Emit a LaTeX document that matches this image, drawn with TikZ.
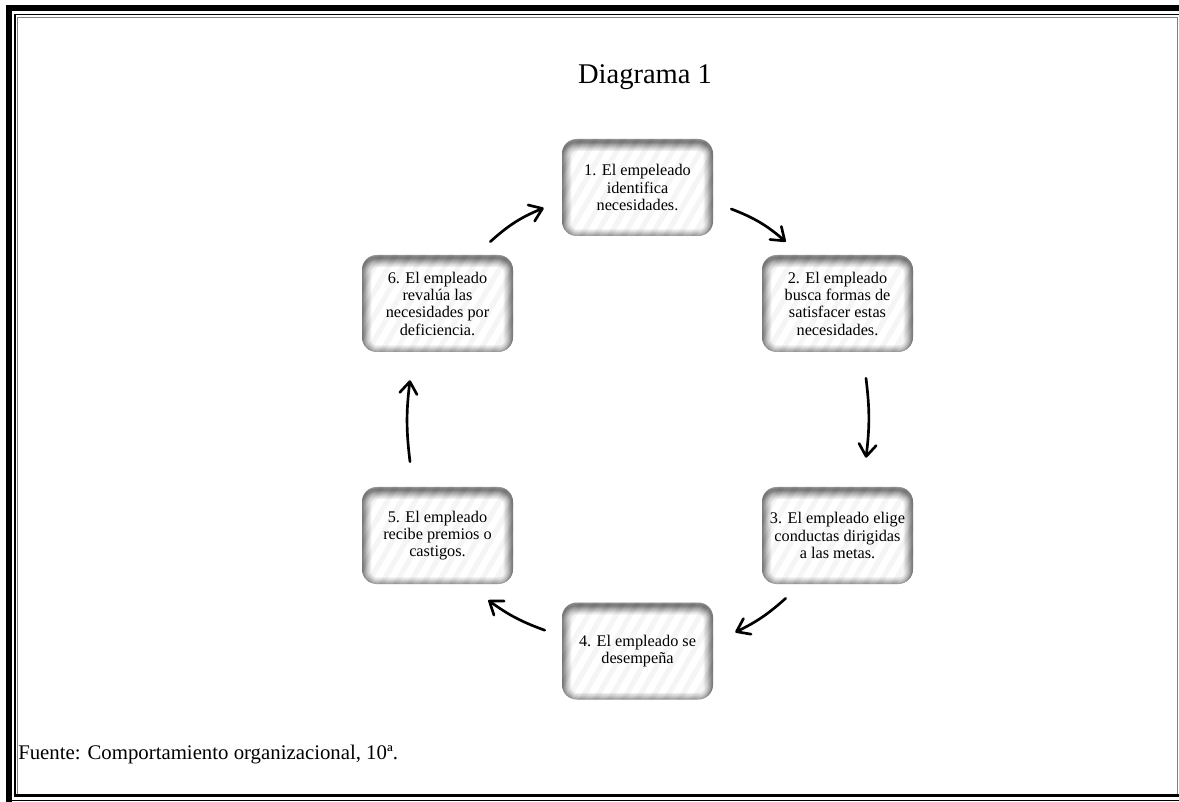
\documentclass[tikz,border=0pt]{standalone}
\usepackage{fontspec}
\setmainfont{Liberation Serif}
\usetikzlibrary{arrows.meta,calc}
\begin{document}
\begin{tikzpicture}[x=0.75pt,y=0.75pt,
  boxstyle/.style={
    minimum width=113.25pt, minimum height=72.75pt, inner sep=0pt,
    rounded corners=11pt, align=center,
    font=\fontsize{12.2}{13}\selectfont,
    path picture={
      \fill[white] (path picture bounding box.south west) rectangle (path picture bounding box.north east);
      \foreach \k in {-16,...,16}
        \draw[black!4, line width=3.8pt]
          ([shift={(\k*14-40,-69.3)}]path picture bounding box.center) -- ++(80,138.6);
      \foreach \w in {14,12,10,8.5,7,5.8,4.6,3.5,2.5,1.6}
        \draw[black, opacity=.065, line width=\w pt, rounded corners=11pt]
          ([yshift=-2pt]path picture bounding box.south west) rectangle
          ([yshift=-2pt]path picture bounding box.north east);
    }},
  arr/.style={line width=2pt, line cap=round,
    -{Straight Barb[length=9pt,width=13pt,line width=2pt,round]}}
]
\useasboundingbox (0,0) rectangle (1179,801);
\fill[white] (0,0) rectangle (1179,801);
% page border
\draw[line width=4.5pt] (9,-6) |- (1190,793);
\draw[line width=1.2pt] (15,5.5) |- (1190,786.5);
\draw[line width=2.2pt] (13.5,5.5) -- (1190,5.5);
\draw[line width=1pt] (12,0.6) -- (1190,0.6);
\draw[gray, line width=0.8pt] (17.5,7) |- (1177.5,783.5) -- (1177.5,7);

% title and source
\node[font=\fontsize{21.4}{24}\selectfont, anchor=base] (title) at (645,717) {Diagrama 1};
\node[font=\fontsize{15.6}{18}\selectfont, anchor=base west, inner sep=0pt] (src) at (18,42) {Fuente: Comportamiento organizacional, 10ª.};

% boxes
\node[boxstyle] (b1) at (637.5,613.5) {1. El empeleado\\identifica\\necesidades.};
\node[boxstyle] (b2) at (837.5,497.5) {2. El empleado\\busca formas de\\satisfacer estas\\necesidades.};
\node[boxstyle] (b3) at (837.5,265.5) {3. El empleado elige\\conductas dirigidas\\a las metas.};
\node[boxstyle] (b4) at (637.5,150) {4. El empleado se\\desempeña};
\node[boxstyle] (b5) at (437.5,265.5) {5. El empleado\\recibe premios o\\castigos.};
\node[boxstyle] (b6) at (437.5,497.5) {6. El empleado\\revalúa las\\necesidades por\\deficiencia.};

% arrows
\draw[arr] ([shift={(18,-21.5)}]b1.east) to[bend left=10] ([shift={(24,13)}]b2.north west);
\draw[arr] ([shift={(28.5,-26)}]b2.south) to[bend left=7] ([shift={(28.5,29)}]b3.north);
\draw[arr] ([shift={(24,-14)}]b3.south west) to[bend left=8] ([shift={(22,-30)}]b4.north east);
\draw[arr] ([shift={(-17,-28)}]b4.north west) to[bend left=8] ([shift={(-25,-16)}]b5.south east);
\draw[arr] ([shift={(-27.5,25)}]b5.north) to[bend left=7] ([shift={(-27.5,-28)}]b6.south);
\draw[arr] ([shift={(-23,13)}]b6.north east) to[bend left=10] ([shift={(-18,-20.5)}]b1.west);
\end{tikzpicture}
\end{document}
